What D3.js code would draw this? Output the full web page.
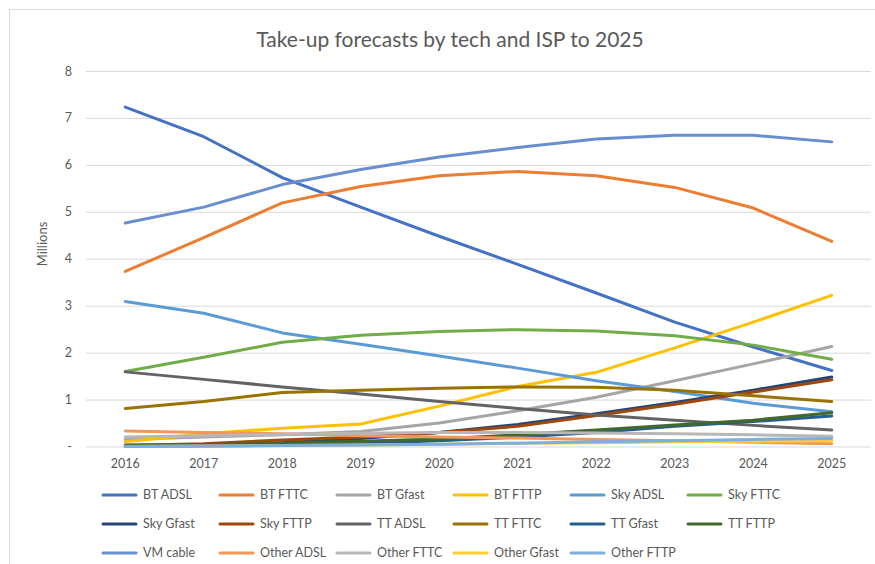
<!DOCTYPE html>
<html>
<head>
<meta charset="utf-8">
<script src="https://cdn.jsdelivr.net/npm/d3@7"></script>
<style>
  body { margin: 0; background: #fff; }
  text { font-family: Lato, "Liberation Sans", sans-serif; fill: #595959; }
</style>
</head>
<body>
<div id="chart"></div>
<script>
// Chart data (millions)
var years = ["2016", "2017", "2018", "2019", "2020", "2021", "2022", "2023", "2024", "2025"];
var seriesNames = ["BT ADSL", "BT FTTC", "BT Gfast", "BT FTTP", "Sky ADSL", "Sky FTTC",
    "Sky Gfast", "Sky FTTP", "TT ADSL", "TT FTTC", "TT Gfast", "TT FTTP",
    "VM cable", "Other ADSL", "Other FTTC", "Other Gfast", "Other FTTP"];
var seriesColors = ["#4472C4", "#ED7D31", "#A5A5A5", "#FFC000", "#5B9BD5", "#70AD47",
    "#264478", "#9E480E", "#636363", "#997300", "#255E91", "#43682B",
    "#698ED0", "#F1975A", "#B7B7B7", "#FFCD33", "#7CAFDD"];

var btAdsl = [7.23, 6.6, 5.73, 5.1, 4.48, 3.88, 3.27, 2.65, 2.12, 1.62];
var btFttc = [3.73, 4.45, 5.19, 5.54, 5.77, 5.86, 5.77, 5.52, 5.08, 4.37];
var btGfast = [0.15, 0.2, 0.25, 0.32, 0.5, 0.76, 1.05, 1.4, 1.76, 2.13];
var btFttp = [0.1, 0.27, 0.39, 0.48, 0.86, 1.28, 1.58, 2.1, 2.65, 3.22];
var skyAdsl = [3.09, 2.84, 2.42, 2.18, 1.93, 1.67, 1.4, 1.17, 0.92, 0.74];
var skyFttc = [1.6, 1.9, 2.22, 2.37, 2.45, 2.49, 2.46, 2.36, 2.16, 1.86];
var skyGfast = [0.0, 0.02, 0.08, 0.17, 0.3, 0.47, 0.7, 0.94, 1.2, 1.48];
var skyFttp = [0.02, 0.06, 0.14, 0.2, 0.3, 0.43, 0.66, 0.9, 1.16, 1.42];
var ttAdsl = [1.59, 1.43, 1.27, 1.12, 0.96, 0.81, 0.67, 0.56, 0.45, 0.35];
var ttFttc = [0.81, 0.96, 1.15, 1.2, 1.24, 1.27, 1.26, 1.2, 1.08, 0.96];
var ttGfast = [0.0, 0.01, 0.03, 0.06, 0.12, 0.2, 0.3, 0.43, 0.53, 0.65];
var ttFttp = [0.03, 0.04, 0.07, 0.11, 0.16, 0.25, 0.35, 0.46, 0.56, 0.72];
var vmCable = [4.76, 5.1, 5.58, 5.9, 6.17, 6.37, 6.55, 6.63, 6.63, 6.49];
var otherAdsl = [0.33, 0.3, 0.27, 0.23, 0.2, 0.18, 0.15, 0.12, 0.09, 0.06];
var otherFttc = [0.2, 0.23, 0.26, 0.28, 0.3, 0.3, 0.29, 0.27, 0.25, 0.22];
var otherGfast = [0.0, 0.01, 0.02, 0.03, 0.05, 0.07, 0.08, 0.1, 0.11, 0.12];
var otherFttp = [0.0, 0.01, 0.02, 0.03, 0.05, 0.07, 0.1, 0.12, 0.15, 0.17];

var yTicks = [0, 1, 2, 3, 4, 5, 6, 7, 8];

var seriesValues = [btAdsl, btFttc, btGfast, btFttp, skyAdsl, skyFttc, skyGfast, skyFttp,
    ttAdsl, ttFttc, ttGfast, ttFttp, vmCable, otherAdsl, otherFttc, otherGfast, otherFttp];

var series = seriesNames.map(function (name, i) {
    return { name: name, color: seriesColors[i], values: seriesValues[i] };
});

// SVG area
var svgWidth = 875;
var svgHeight = 564;

var chartMargin = { top: 71, right: 4, bottom: 117.5, left: 86 };
var chartWidth = svgWidth - chartMargin.left - chartMargin.right;
var chartHeight = svgHeight - chartMargin.top - chartMargin.bottom;

var svg = d3.select("#chart")
    .append("svg")
    .attr("width", svgWidth)
    .attr("height", svgHeight);

// chart area border
svg.append("rect")
    .attr("x", 9.5)
    .attr("y", 9.5)
    .attr("width", svgWidth)
    .attr("height", svgHeight)
    .attr("fill", "none")
    .attr("stroke", "#D9D9D9");

var chartGroup = svg.append("g")
    .attr("transform", `translate(${chartMargin.left}, ${chartMargin.top})`);

// Scales
var xScale = d3.scaleBand()
    .domain(years)
    .range([0, chartWidth]);

var yScale = d3.scaleLinear()
    .domain([0, 8])
    .range([chartHeight, 0]);

// Gridlines + y labels
var leftAxis = d3.axisLeft(yScale)
    .tickValues(yTicks)
    .tickSize(-chartWidth)
    .tickPadding(14)
    .tickFormat(d => d === 0 ? "-" : d);

var yAxisGroup = chartGroup.append("g").call(leftAxis);
yAxisGroup.select(".domain").remove();
yAxisGroup.selectAll(".tick line").attr("stroke", "#D9D9D9");
yAxisGroup.selectAll(".tick text")
    .attr("font-size", 12.5)
    .style("fill", "#595959");

// x labels
var bottomAxis = d3.axisBottom(xScale).tickSize(0).tickPadding(13);
var xAxisGroup = chartGroup.append("g")
    .attr("transform", `translate(0, ${chartHeight})`)
    .call(bottomAxis);
xAxisGroup.select(".domain").remove();
xAxisGroup.selectAll(".tick text")
    .attr("font-size", 12.5)
    .style("fill", "#595959");

// Lines
var line = d3.line()
    .x((d, i) => xScale(years[i]) + xScale.bandwidth() / 2)
    .y(d => yScale(d));

chartGroup.selectAll(".series")
    .data(series)
    .enter()
    .append("path")
    .attr("class", "series")
    .attr("d", d => line(d.values))
    .attr("fill", "none")
    .attr("stroke", d => d.color)
    .attr("stroke-width", 3)
    .attr("stroke-linejoin", "round")
    .attr("stroke-linecap", "round");

// Title
svg.append("text")
    .attr("x", 450)
    .attr("y", 47)
    .attr("text-anchor", "middle")
    .attr("font-size", 21)
    .text("Take-up forecasts by tech and ISP to 2025");

// Axis title
svg.append("text")
    .attr("transform", "translate(47, 244) rotate(-90)")
    .attr("text-anchor", "middle")
    .attr("font-size", 13)
    .text("Millions");

// Legend
var legendCols = 6;
var legend = svg.selectAll(".legend")
    .data(series)
    .enter()
    .append("g")
    .attr("class", "legend")
    .attr("transform", (d, i) =>
        `translate(${103 + (i % legendCols) * 117}, ${495 + Math.floor(i / legendCols) * 29})`);

legend.append("line")
    .attr("x1", 0)
    .attr("x2", 33)
    .attr("stroke", d => d.color)
    .attr("stroke-width", 3)
    .attr("stroke-linecap", "round");

legend.append("text")
    .attr("x", 40)
    .attr("dy", "0.35em")
    .attr("font-size", 12.5)
    .text(d => d.name);
</script>
</body>
</html>
